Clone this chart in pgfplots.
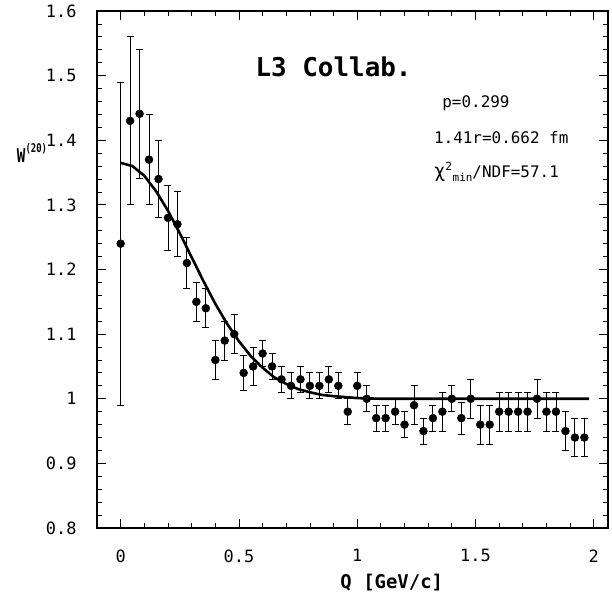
\documentclass[border=0pt]{standalone}
\usepackage{fontspec}
\setmainfont{DejaVu Sans Mono}
\usepackage{graphicx}
\usepackage{pgfplots}
\pgfplotsset{compat=1.18}

% W^(20) data: Q, value, error
\pgfplotstableread{
q     w      e
0.00  1.240  0.250
0.04  1.430  0.130
0.08  1.441  0.100
0.12  1.370  0.070
0.16  1.340  0.060
0.20  1.280  0.050
0.24  1.270  0.050
0.28  1.210  0.040
0.32  1.150  0.030
0.36  1.140  0.030
0.40  1.060  0.030
0.44  1.090  0.030
0.48  1.100  0.030
0.52  1.040  0.027
0.56  1.050  0.030
0.60  1.070  0.020
0.64  1.050  0.020
0.68  1.030  0.020
0.72  1.020  0.020
0.76  1.030  0.020
0.80  1.020  0.020
0.84  1.020  0.020
0.88  1.030  0.020
0.92  1.020  0.020
0.96  0.980  0.020
1.00  1.020  0.020
1.04  1.000  0.020
1.08  0.970  0.020
1.12  0.970  0.020
1.16  0.980  0.020
1.20  0.960  0.020
1.24  0.990  0.030
1.28  0.950  0.020
1.32  0.970  0.020
1.36  0.980  0.030
1.40  1.000  0.020
1.44  0.970  0.025
1.48  1.000  0.030
1.52  0.960  0.030
1.56  0.960  0.030
1.60  0.980  0.030
1.64  0.980  0.030
1.68  0.980  0.030
1.72  0.980  0.030
1.76  1.000  0.030
1.80  0.980  0.030
1.84  0.980  0.030
1.88  0.950  0.030
1.92  0.940  0.030
1.96  0.940  0.030
}\wdata

% fitted curve
\pgfplotstableread{
q     w
0.00  1.365
0.05  1.360
0.10  1.345
0.15  1.321
0.20  1.291
0.25  1.256
0.30  1.219
0.35  1.182
0.40  1.147
0.45  1.116
0.50  1.089
0.55  1.066
0.60  1.048
0.65  1.033
0.70  1.023
0.75  1.015
0.80  1.010
0.85  1.006
0.90  1.004
1.00  1.001
1.10  1.000
1.98  1.000
}\wfit

\begin{document}
\begin{tikzpicture}
\path[use as bounding box] (-97bp,-75bp) rectangle (515bp,528bp);
\begin{axis}[
  at={(0,0)}, anchor=south west, scale only axis,
  width=511bp, height=517bp,
  xmin=-0.1, xmax=2.06, ymin=0.8, ymax=1.6,
  xtick={0,0.5,1,1.5,2},
  ytick={0.8,0.9,1,1.1,1.2,1.3,1.4,1.5,1.6},
  minor x tick num=4, minor y tick num=4,
  tick align=inside, major tick length=9bp, minor tick length=5bp,
  axis line style={line width=1.1bp},
  every tick/.style={black, line width=0.8bp},
  ticklabel style={font=\fontsize{17}{20}\selectfont},
  /pgf/number format/assume math mode=true,
  xticklabel style={yshift=-18bp},
  yticklabel style={xshift=-17bp},
  clip=false,
]
\addplot[black, line width=2.6bp] table[x=q, y=w] {\wfit};
\addplot[black, only marks, mark=*, mark size=4bp,
  error bars/.cd, y dir=both, y explicit,
  error bar style={line width=0.9bp},
  error mark options={rotate=90, line width=0.9bp, mark size=3.5bp}]
  table[x=q, y=w, y error=e] {\wdata};

\node[font=\fontsize{26}{30}\selectfont\bfseries] at (axis cs:0.90,1.514) {L3 Collab.};
\node[anchor=west, font=\fontsize{16}{19}\selectfont] at (axis cs:1.345,1.458) {p=0.299};
\node[anchor=west, font=\fontsize{16}{19}\selectfont] at (axis cs:1.31,1.404) {1.41r=0.662 fm};
\node[anchor=west, font=\fontsize{16}{19}\selectfont] at (axis cs:1.31,1.351)
  {{\fontsize{19}{20}\selectfont χ}\textsuperscript{2}\raisebox{-0.5ex}{\fontsize{11}{12}\selectfont min}/NDF=57.1};
\node[anchor=east, inner sep=0pt, font=\bfseries] at (axis cs:-0.31,1.38)
  {\scalebox{0.75}[1]{\fontsize{19}{20}\selectfont W\raisebox{1.0ex}{\fontsize{12}{13}\selectfont(20)}}};
\node[font=\fontsize{19}{22}\selectfont\bfseries] at (axis cs:1.146,0.715) {Q [GeV/c]};
\end{axis}
\end{tikzpicture}
\end{document}
